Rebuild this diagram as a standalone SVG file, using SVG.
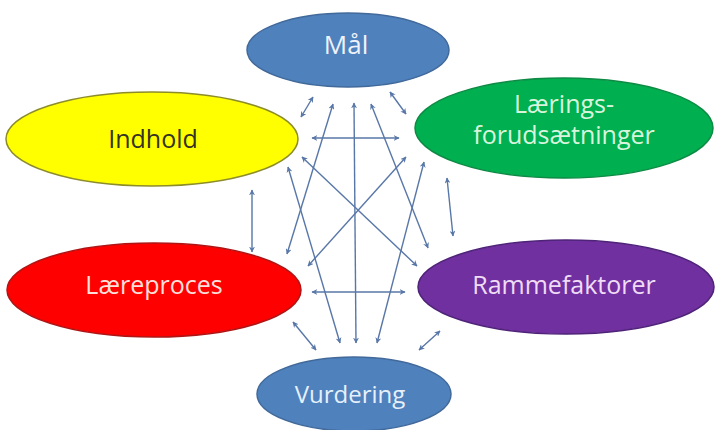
<svg xmlns="http://www.w3.org/2000/svg" width="716" height="430" viewBox="0 0 716 430">
<style>
.node ellipse{stroke-width:1.5}
.lbl{font-family:"Open Sans","Liberation Sans",sans-serif;font-size:25px;text-anchor:middle}
.conn line{stroke:#5877a8;stroke-width:1.4;fill:none;marker-start:url(#ah);marker-end:url(#ah)}
</style>
<defs>
<marker id="ah" viewBox="0 0 10 10" refX="9" refY="5" markerWidth="6" markerHeight="6" orient="auto-start-reverse" markerUnits="userSpaceOnUse">
<path d="M0,0 L10,5 L0,10 L3,5 Z" fill="#5877a8"/>
</marker>
</defs>
<rect width="716" height="430" fill="#ffffff"/>
<g class="conn">
<line x1="313" y1="97" x2="301" y2="117"/>
<line x1="390" y1="92" x2="406" y2="114"/>
<line x1="312" y1="138" x2="399" y2="138"/>
<line x1="354" y1="103" x2="356" y2="343"/>
<line x1="333" y1="104" x2="287" y2="254"/>
<line x1="371" y1="104" x2="428" y2="248"/>
<line x1="288" y1="167" x2="340" y2="343"/>
<line x1="424" y1="162" x2="377" y2="343"/>
<line x1="302" y1="157" x2="417" y2="266"/>
<line x1="406" y1="157" x2="308" y2="266"/>
<line x1="447" y1="178" x2="453" y2="236"/>
<line x1="252" y1="190" x2="252" y2="252"/>
<line x1="312" y1="292" x2="405" y2="292"/>
<line x1="293" y1="322" x2="316" y2="350"/>
<line x1="440" y1="331" x2="419" y2="350"/>
</g>
<g id="maal" class="node">
<ellipse cx="348" cy="50" rx="101" ry="37" fill="#4f81bd" stroke="#41699a"/>
<text class="lbl" x="346" y="54" fill="#eef2fa" style="font-size:26px">Mål</text>
</g>
<g id="indhold" class="node">
<ellipse cx="152" cy="139" rx="146" ry="47" fill="#ffff00" stroke="#8c8c2a"/>
<text class="lbl" x="153" y="148" fill="#333322">Indhold</text>
</g>
<g id="laering" class="node">
<ellipse cx="564" cy="128" rx="149" ry="50" fill="#00b050" stroke="#0d8a44"/>
<text class="lbl" x="564" y="113" fill="#d8f5dc">Lærings-</text>
<text class="lbl" x="564" y="144" fill="#d8f5dc">forudsætninger</text>
</g>
<g id="laereproces" class="node">
<ellipse cx="154" cy="290" rx="147" ry="47" fill="#ff0000" stroke="#b01515"/>
<text class="lbl" x="154" y="294" fill="#fde0dc">Læreproces</text>
</g>
<g id="rammefaktorer" class="node">
<ellipse cx="566" cy="287" rx="148" ry="47" fill="#7030a0" stroke="#4e2378"/>
<text class="lbl" x="564" y="294" fill="#f0dcf6">Rammefaktorer</text>
</g>
<g id="vurdering" class="node">
<ellipse cx="354" cy="394" rx="97" ry="37" fill="#4f81bd" stroke="#41699a"/>
<text class="lbl" x="350" y="403" fill="#e6f0fb" style="font-size:24px">Vurdering</text>
</g>
</svg>
